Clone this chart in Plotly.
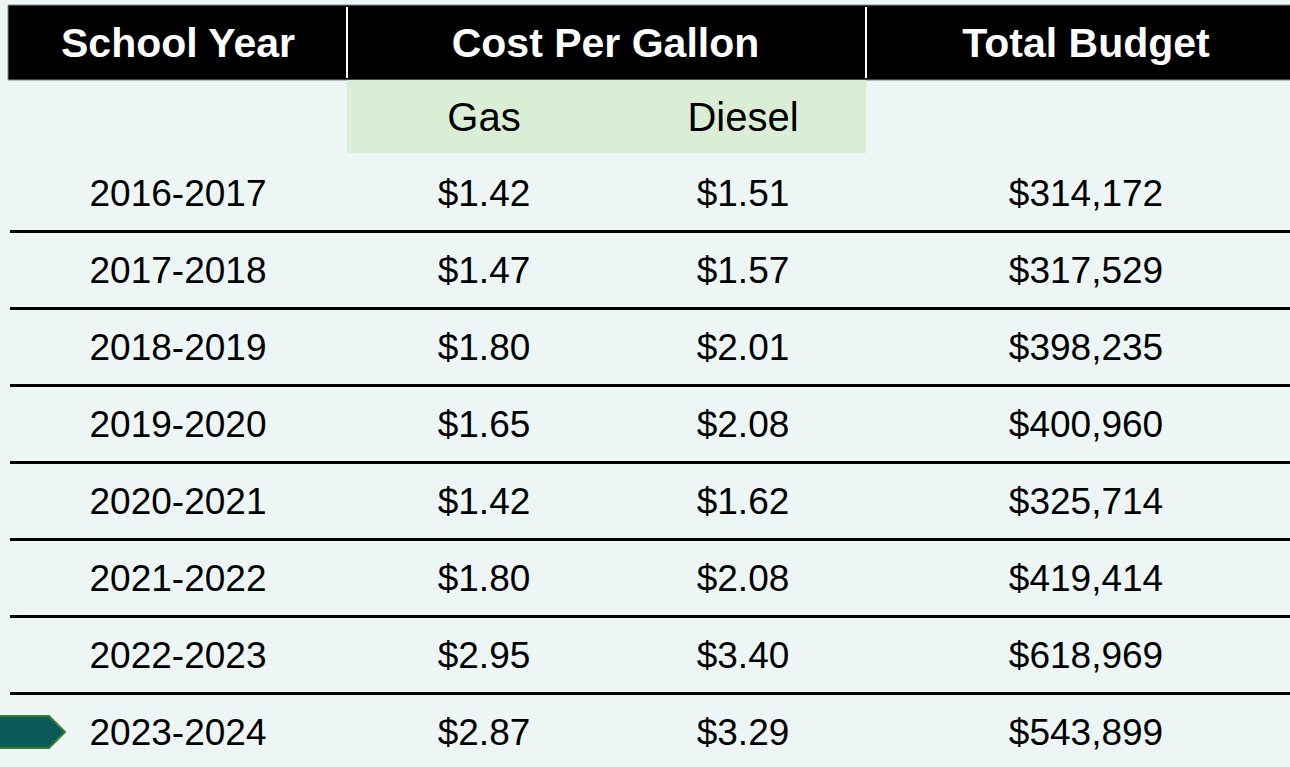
import plotly.graph_objects as go

# ---------------- data ----------------
headers = ["School Year", "Cost Per Gallon", "Total Budget"]
sub_headers = ["Gas", "Diesel"]
years = ["2016-2017", "2017-2018", "2018-2019", "2019-2020",
         "2020-2021", "2021-2022", "2022-2023", "2023-2024"]
gas = [1.42, 1.47, 1.80, 1.65, 1.42, 1.80, 2.95, 2.87]
diesel = [1.51, 1.57, 2.01, 2.08, 1.62, 2.08, 3.40, 3.29]
budget = [314172, 317529, 398235, 400960, 325714, 419414, 618969, 543899]
highlight_row = 7  # arrow marks the current year

# ---------------- layout constants ----------------
W, H = 1290, 767
BG = "#EDF6F5"
GREEN = "#DAEED5"
FONT = "Liberation Sans, Arial, sans-serif"

col_x = {"year": 178, "gas": 484, "diesel": 743, "budget": 1086}
row_y0, row_h = 193, 77
row_y = [row_y0 + row_h * i for i in range(len(years))]
dy = 4  # vertical text baseline correction
text_y = [y + dy for y in row_y]

fig = go.Figure()

# header texts
fig.add_trace(go.Scatter(
    x=[col_x["year"], (col_x["gas"] + col_x["diesel"]) / 2 - 8, col_x["budget"]],
    y=[43 + dy] * 3, mode="text", text=headers,
    textfont=dict(family=FONT, size=41, color="white", weight="bold"),
    textposition="middle center", hoverinfo="skip", showlegend=False))

# sub headers
fig.add_trace(go.Scatter(
    x=[col_x["gas"], col_x["diesel"]], y=[117 + dy] * 2, mode="text", text=sub_headers,
    textfont=dict(family=FONT, size=40, color="black"),
    textposition="middle center", hoverinfo="skip", showlegend=False))

body_font = dict(family=FONT, size=37, color="black")
fig.add_trace(go.Scatter(
    x=[col_x["year"]] * len(years), y=text_y, mode="text", text=years,
    textfont=body_font, textposition="middle center", hoverinfo="skip", showlegend=False))
fig.add_trace(go.Scatter(
    x=[col_x["gas"]] * len(gas), y=text_y, mode="text",
    text=[f"${v:.2f}" for v in gas],
    textfont=body_font, textposition="middle center", hoverinfo="skip", showlegend=False))
fig.add_trace(go.Scatter(
    x=[col_x["diesel"]] * len(diesel), y=text_y, mode="text",
    text=[f"${v:.2f}" for v in diesel],
    textfont=body_font, textposition="middle center", hoverinfo="skip", showlegend=False))
fig.add_trace(go.Scatter(
    x=[col_x["budget"]] * len(budget), y=text_y, mode="text",
    text=[f"${v:,}" for v in budget],
    textfont=body_font, textposition="middle center", hoverinfo="skip", showlegend=False))

shapes = []
# header band
shapes.append(dict(type="rect", x0=8, x1=W + 5, y0=5, y1=80,
                   fillcolor="black", line=dict(color="#8a8a8a", width=1), layer="below"))
# white separators
for sx in (347, 866):
    shapes.append(dict(type="line", x0=sx, x1=sx, y0=7, y1=78,
                       line=dict(color="white", width=2)))
# green sub-header band
shapes.append(dict(type="rect", x0=347, x1=866, y0=80, y1=153,
                   fillcolor=GREEN, line=dict(width=0), layer="below"))
# row separator lines
for i in range(len(years) - 1):
    yl = row_y[i] + row_h / 2
    shapes.append(dict(type="line", x0=10, x1=W, y0=yl, y1=yl,
                       line=dict(color="black", width=2.8)))
# arrow marker
ya = row_y[highlight_row]
shapes.append(dict(type="path",
                   path=f"M -5 {ya-16} L 49 {ya-16} L 65 {ya} L 49 {ya+16} L -5 {ya+16} Z",
                   fillcolor="#0A5A57", line=dict(color="#3F7D2C", width=2)))

fig.update_layout(
    width=W, height=H, margin=dict(l=0, r=0, t=0, b=0),
    paper_bgcolor=BG, plot_bgcolor=BG,
    xaxis=dict(range=[0, W], visible=False, fixedrange=True),
    yaxis=dict(range=[H, 0], visible=False, fixedrange=True),
    shapes=shapes, showlegend=False,
)

fig.write_html("out.html", config={"displayModeBar": False},
               post_script="document.body.style.margin='0';document.body.style.overflow='hidden';")
